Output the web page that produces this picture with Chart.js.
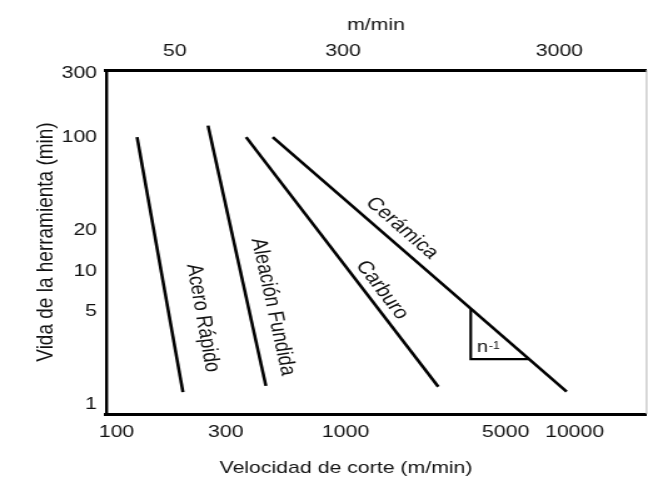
<!DOCTYPE html>
<html>
<head>
<meta charset="utf-8">
<script src="https://cdn.jsdelivr.net/npm/chart.js@4.4.1/dist/chart.umd.min.js"></script>
<style>
  html, body { margin: 0; padding: 0; background: #fff; }
</style>
</head>
<body>
<!-- the original figure is stretched horizontally, so the canvas is drawn narrower and widened by css -->
<canvas id="myChart" width="518" height="487" style="display:block;width:648px;height:487px"></canvas>
<script>
// extremos de cada recta: velocidad de corte (ft/min) y vida (min)
const aceroVel = [123, 195];
const aceroVida = [100, 1.24];
const aleacionVel = [251, 449];
const aleacionVida = [122, 1.38];
const carburoVel = [368, 2540];
const carburoVida = [100, 1.36];
const ceramicaVel = [481, 9230];
const ceramicaVida = [100, 1.25];
// triangulo de pendiente sobre la recta de ceramica
const trianguloVel = [3520, 3520, 6320];
const trianguloVida = [5.22, 2.19, 2.19];

const xTicks = [100, 300, 1000, 5000, 10000];
const topTicks = [50, 300, 3000];
const yTicks = [1, 5, 10, 20, 100, 300];

const sx = 648 / 518;
const fuente = "'Liberation Sans', Arial, Helvetica, sans-serif";
Chart.defaults.font.family = fuente;
Chart.defaults.color = "#111";

const lineas = [
  [aceroVel, aceroVida],
  [aleacionVel, aleacionVida],
  [carburoVel, carburoVida],
  [ceramicaVel, ceramicaVida],
];

const puntos = (vx, vy) => vx.map((v, i) => ({ x: v, y: vy[i] }));

// rotulos de cada recta, centro en unidades de los ejes
const rotulos = [
  { texto: "Acero Rápido", x: 238, y: 4.44, linea: 0 },
  { texto: "Aleación Fundida", x: 482, y: 5.37, linea: 1 },
  { texto: "Carburo", x: 1443, y: 7.19, linea: 2 },
  { texto: "Cerámica", x: 1765, y: 20.9, linea: 3 },
];

const etiquetas = {
  id: "etiquetas",
  afterDraw(chart) {
    const { ctx, chartArea, scales } = chart;
    const x = scales.x, y = scales.y;
    ctx.save();
    ctx.fillStyle = "#111";

    ctx.textAlign = "center";
    ctx.textBaseline = "middle";
    ctx.font = "18px " + fuente;
    rotulos.forEach((r) => {
      const [vx, vy] = lineas[r.linea];
      const ang = Math.atan2(
        y.getPixelForValue(vy[1]) - y.getPixelForValue(vy[0]),
        x.getPixelForValue(vx[1]) - x.getPixelForValue(vx[0])
      );
      ctx.save();
      ctx.translate(x.getPixelForValue(r.x), y.getPixelForValue(r.y));
      ctx.rotate(ang);
      ctx.fillText(r.texto, 0, 0);
      ctx.restore();
    });

    // n^-1 dentro del triangulo
    const nx = x.getPixelForValue(trianguloVel[0]) + 5;
    const ny = y.getPixelForValue(trianguloVida[1]) - 7;
    ctx.textAlign = "left";
    ctx.textBaseline = "alphabetic";
    ctx.font = "16px " + fuente;
    ctx.fillText("n", nx, ny);
    const w = ctx.measureText("n").width;
    ctx.font = "10px " + fuente;
    ctx.fillText("-1", nx + w + 0.5, ny - 3);

    // titulo del eje x
    ctx.textAlign = "center";
    ctx.textBaseline = "middle";
    ctx.font = "17px " + fuente;
    ctx.fillText("Velocidad de corte (m/min)", 346 / sx, 468);

    // borde derecho fino
    ctx.strokeStyle = "#b5b5b5";
    ctx.lineWidth = 1;
    ctx.beginPath();
    ctx.moveTo(chartArea.right + 0.5, chartArea.top);
    ctx.lineTo(chartArea.right + 0.5, chartArea.bottom);
    ctx.stroke();
    ctx.restore();
  },
};

const tickFont = { size: 17 };

new Chart(document.getElementById("myChart"), {
  type: "scatter",
  data: {
    datasets: [
      ...lineas.map(([vx, vy]) => ({
        data: puntos(vx, vy),
        showLine: true,
        borderColor: "#000",
        borderWidth: 2.6,
        pointRadius: 0,
        fill: false,
      })),
      {
        data: puntos(trianguloVel, trianguloVida),
        showLine: true,
        borderColor: "#000",
        borderWidth: 2.2,
        borderJoinStyle: "miter",
        pointRadius: 0,
        fill: false,
      },
    ],
  },
  options: {
    responsive: false,
    animation: false,
    devicePixelRatio: 1,
    layout: { padding: { left: 0, top: 0, bottom: 0, right: 518 - 646 / sx } },
    plugins: {
      legend: { display: false },
      tooltip: { enabled: false },
    },
    scales: {
      x: {
        type: "logarithmic",
        position: "bottom",
        min: 90,
        max: 20500,
        grid: { display: false, drawTicks: false },
        border: { display: true, color: "#000", width: 3 },
        ticks: {
          autoSkip: false,
          maxRotation: 0,
          padding: 8,
          font: tickFont,
          callback: (v) => String(v),
        },
        afterBuildTicks: (sc) => {
          sc.ticks = xTicks.map((v) => ({ value: v }));
        },
        afterFit: (sc) => {
          sc.height = 487 - 414;
        },
      },
      x2: {
        type: "logarithmic",
        position: "top",
        min: 24,
        max: 7550,
        grid: { display: false, drawTicks: false },
        border: { display: true, color: "#000", width: 3 },
        ticks: {
          autoSkip: false,
          maxRotation: 0,
          padding: 8,
          font: tickFont,
          callback: (v) => String(v),
        },
        title: {
          display: true,
          text: "m/min",
          font: { size: 17 },
          padding: { top: 15, bottom: 0 },
        },
        afterBuildTicks: (sc) => {
          sc.ticks = topTicks.map((v) => ({ value: v }));
        },
        afterFit: (sc) => {
          sc.height = 70;
        },
      },
      y: {
        type: "logarithmic",
        position: "left",
        min: 0.85,
        max: 318,
        grid: { display: false, drawTicks: false },
        border: { display: true, color: "#000", width: 3 / sx },
        ticks: {
          autoSkip: false,
          padding: 9 / sx,
          font: tickFont,
          callback: (v) => String(v),
        },
        title: {
          display: true,
          text: "Vida de la herramienta (min)",
          font: { size: 19 },
          padding: { top: 25, bottom: 0 },
        },
        afterBuildTicks: (sc) => {
          sc.ticks = yTicks.map((v) => ({ value: v }));
        },
        afterFit: (sc) => {
          sc.width = 106 / sx;
        },
      },
    },
  },
  plugins: [etiquetas],
});
</script>
</body>
</html>
